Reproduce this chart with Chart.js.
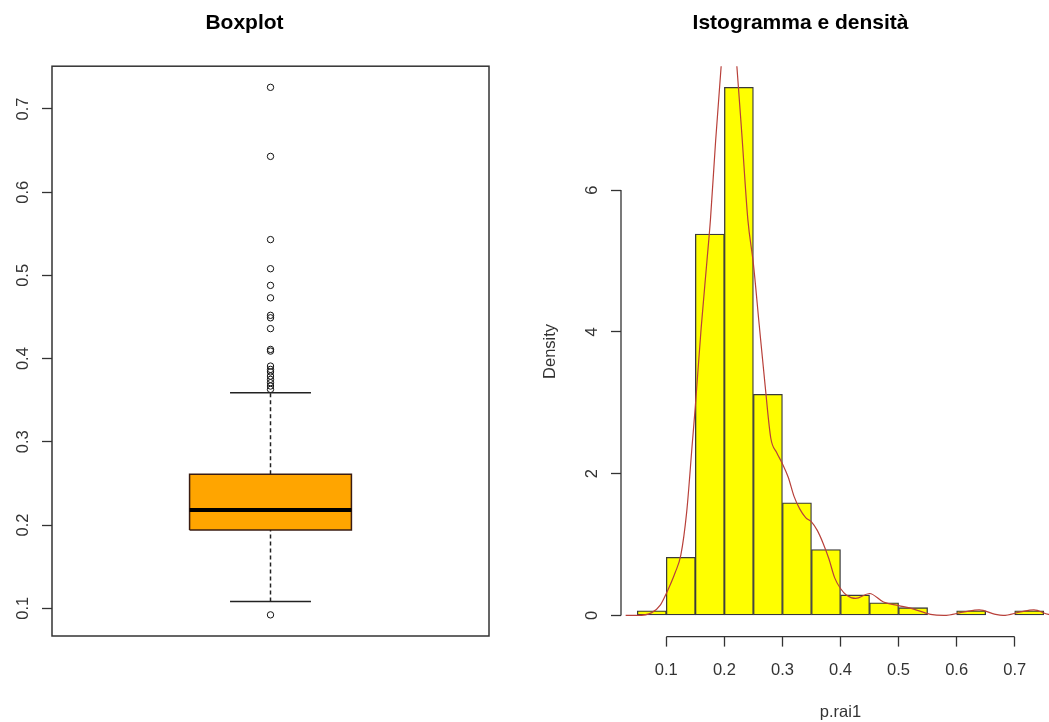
<!DOCTYPE html>
<html>
<head>
<meta charset="utf-8">
<script src="https://cdn.jsdelivr.net/npm/chart.js@4/dist/chart.umd.min.js"></script>
<style>
  html, body { margin: 0; padding: 0; background: #fff; overflow: hidden; }
  body { width: 1049px; height: 722px; position: relative; }
  canvas { position: absolute; top: 0; }
  #boxChart { left: 0; }
  #histChart { left: 541px; }
</style>
</head>
<body>
<canvas id="boxChart" width="541" height="722"></canvas>
<canvas id="histChart" width="599" height="722"></canvas>
<script>
// boxplot: lower whisker, Q1, median, Q3, upper whisker
let boxStats = [0.108, 0.194, 0.218, 0.261, 0.359];
let outliers = [0.726, 0.643, 0.543, 0.508, 0.488, 0.473, 0.452, 0.449, 0.436, 0.411, 0.409,
                0.391, 0.387, 0.384, 0.379, 0.375, 0.371, 0.367, 0.363, 0.092];
let boxTicks = [0.1, 0.2, 0.3, 0.4, 0.5, 0.6, 0.7];

// histogram (density scale) + kernel density
let breaks = [0.05, 0.1, 0.15, 0.2, 0.25, 0.3, 0.35, 0.4, 0.45, 0.5, 0.55, 0.6, 0.65, 0.7, 0.75];
let densities = [0.066, 0.82, 5.38, 7.45, 3.12, 1.59, 0.93, 0.29, 0.18, 0.11, 0, 0.066, 0, 0.066];
let densX = [0.03, 0.05, 0.075, 0.09, 0.1, 0.115, 0.125, 0.135, 0.145, 0.15, 0.16, 0.17, 0.176, 0.185,
             0.1945, 0.2, 0.208, 0.215, 0.2215, 0.23, 0.2405, 0.25, 0.26, 0.27, 0.28, 0.29, 0.3, 0.31,
             0.32, 0.33, 0.34, 0.35, 0.36, 0.37, 0.38, 0.39, 0.4, 0.41, 0.426, 0.45, 0.474, 0.5, 0.526,
             0.555, 0.578, 0.613, 0.639, 0.665, 0.68, 0.71, 0.733, 0.758, 0.78];
let densY = [0.0, 0.0, 0.04, 0.15, 0.31, 0.6, 0.85, 1.45, 2.45, 2.95, 4.05, 5.0, 5.58, 6.7,
             7.75, 8.3, 8.6, 8.4, 7.75, 6.8, 5.58, 4.96, 4.1, 3.26, 2.5, 2.3, 2.14, 1.95,
             1.68, 1.5, 1.38, 1.32, 1.2, 1.02, 0.8, 0.53, 0.38, 0.29, 0.24, 0.31, 0.19, 0.14, 0.09,
             0.015, 0.0, 0.05, 0.08, 0.02, 0.0, 0.05, 0.08, 0.015, 0.0];
let histXTicks = [0.1, 0.2, 0.3, 0.4, 0.5, 0.6, 0.7];
let histYTicks = [0, 2, 4, 6];

Chart.defaults.font.family = "'Liberation Sans', Arial, sans-serif";
Chart.defaults.color = "#333";

let tickFont = { size: 16.5 };
let titleFont = { size: 21, weight: "bold" };
let ink = "#333";

function setTicks(list) {
    return function (scale) {
        scale.ticks = list.map(v => ({ value: v }));
    };
}

function seg(x1, y1, x2, y2) {
    return [{ x: x1, y: y1 }, { x: x2, y: y2 }];
}

// ---------- boxplot ----------
let bw = 0.2;
let cw = 0.1;
let lo = boxStats[0], q1 = boxStats[1], med = boxStats[2], q3 = boxStats[3], hi = boxStats[4];

let framePlugin = {
    id: "frame",
    afterDraw(chart) {
        let a = chart.chartArea;
        let ctx = chart.ctx;
        ctx.save();
        ctx.strokeStyle = ink;
        ctx.lineWidth = 1.5;
        ctx.strokeRect(a.left, a.top, a.right - a.left, a.bottom - a.top);
        ctx.restore();
    }
};

let lineStyle = { showLine: true, pointRadius: 0, borderColor: "#222", borderWidth: 1.5, tension: 0 };

new Chart(document.getElementById("boxChart"), {
    type: "scatter",
    data: {
        datasets: [
            Object.assign({}, lineStyle, { data: seg(1 - bw, med, 1 + bw, med), borderColor: "#000", borderWidth: 4 }),
            Object.assign({}, lineStyle, {
                data: [{ x: 1 - bw, y: q1 }, { x: 1 + bw, y: q1 }, { x: 1 + bw, y: q3 }, { x: 1 - bw, y: q3 }, { x: 1 - bw, y: q1 }],
                fill: "shape", backgroundColor: "#FFA500", borderColor: "#3a1c12"
            }),
            Object.assign({}, lineStyle, { data: seg(1, q3, 1, hi), borderDash: [4, 3] }),
            Object.assign({}, lineStyle, { data: seg(1, lo, 1, q1), borderDash: [4, 3] }),
            Object.assign({}, lineStyle, { data: seg(1 - cw, hi, 1 + cw, hi) }),
            Object.assign({}, lineStyle, { data: seg(1 - cw, lo, 1 + cw, lo) }),
            {
                data: outliers.map(v => ({ x: 1, y: v })),
                pointRadius: 3.2, pointBorderWidth: 1, pointBorderColor: "#111",
                pointBackgroundColor: "rgba(0,0,0,0)"
            }
        ]
    },
    options: {
        responsive: false,
        animation: false,
        layout: { padding: { right: 52, bottom: 86 } },
        plugins: {
            legend: { display: false },
            tooltip: { enabled: false },
            title: { display: true, text: "Boxplot", color: "#000", font: titleFont, padding: { top: 11, bottom: 30 } }
        },
        scales: {
            x: { type: "linear", min: 0.46, max: 1.54, display: false },
            y: {
                type: "linear", min: 0.0666, max: 0.7514,
                afterBuildTicks: setTicks(boxTicks),
                afterFit(scale) { scale.width = 52; },
                border: { display: false },
                grid: { drawOnChartArea: false, tickLength: 10, tickColor: ink, tickWidth: 1.3 },
                ticks: {
                    minRotation: 90, maxRotation: 90, crossAlign: "center", padding: 7.5,
                    font: tickFont, color: ink, autoSkip: false,
                    callback: v => v.toFixed(1)
                }
            }
        }
    },
    plugins: [framePlugin]
});

// ---------- histogram ----------
let mids = [];
for (let i = 0; i < densities.length; i++) {
    mids.push((breaks[i] + breaks[i + 1]) / 2);
}

let axisLinePlugin = {
    id: "axisLines",
    afterDraw(chart) {
        let a = chart.chartArea;
        let sx = chart.scales.x;
        let sy = chart.scales.y;
        let ctx = chart.ctx;
        ctx.save();
        ctx.strokeStyle = ink;
        ctx.lineWidth = 1.3;
        ctx.beginPath();
        ctx.moveTo(sx.getPixelForValue(histXTicks[0]), a.bottom);
        ctx.lineTo(sx.getPixelForValue(histXTicks[histXTicks.length - 1]), a.bottom);
        ctx.moveTo(a.left, sy.getPixelForValue(histYTicks[0]));
        ctx.lineTo(a.left, sy.getPixelForValue(histYTicks[histYTicks.length - 1]));
        ctx.stroke();
        ctx.restore();
    }
};

new Chart(document.getElementById("histChart"), {
    type: "bar",
    data: {
        datasets: [
            {
                type: "line",
                data: densX.map((x, i) => ({ x: x, y: densY[i] })),
                borderColor: "#b8403a", borderWidth: 1.2, pointRadius: 0,
                cubicInterpolationMode: "monotone", order: 0
            },
            {
                type: "bar",
                data: mids.map((x, i) => ({ x: x, y: densities[i] })),
                backgroundColor: "#FFFF00", borderColor: "#3a3a3a", borderWidth: 1.3,
                borderSkipped: false, barPercentage: 1, categoryPercentage: 1, order: 1
            }
        ]
    },
    options: {
        responsive: false,
        animation: false,
        layout: { padding: { right: 80 } },
        plugins: {
            legend: { display: false },
            tooltip: { enabled: false },
            title: { display: true, text: "Istogramma e densità", color: "#000", font: titleFont, padding: { top: 11, bottom: 30 } }
        },
        scales: {
            x: {
                type: "linear", min: 0.022, max: 0.778, offset: false,
                afterBuildTicks: setTicks(histXTicks),
                afterFit(scale) { scale.height = 85.4; },
                border: { display: false },
                grid: { offset: false, drawOnChartArea: false, tickLength: 10, tickColor: ink, tickWidth: 1.3 },
                ticks: { font: tickFont, color: ink, padding: 14, autoSkip: false, maxRotation: 0, callback: v => v.toFixed(1) },
                title: { display: true, text: "p.rai1", font: tickFont, color: ink, padding: { top: 0, bottom: 0 } }
            },
            y: {
                type: "linear", min: -0.298, max: 7.748,
                afterBuildTicks: setTicks(histYTicks),
                afterFit(scale) { scale.width = 80; },
                border: { display: false },
                grid: { drawOnChartArea: false, tickLength: 10, tickColor: ink, tickWidth: 1.3 },
                ticks: {
                    minRotation: 90, maxRotation: 90, crossAlign: "center", padding: 14.4,
                    font: tickFont, color: ink, autoSkip: false,
                    callback: v => v.toFixed(0)
                },
                title: { display: true, text: "Density", font: tickFont, color: ink, padding: { top: 0, bottom: 0 } }
            }
        }
    },
    plugins: [axisLinePlugin]
});
</script>
</body>
</html>
